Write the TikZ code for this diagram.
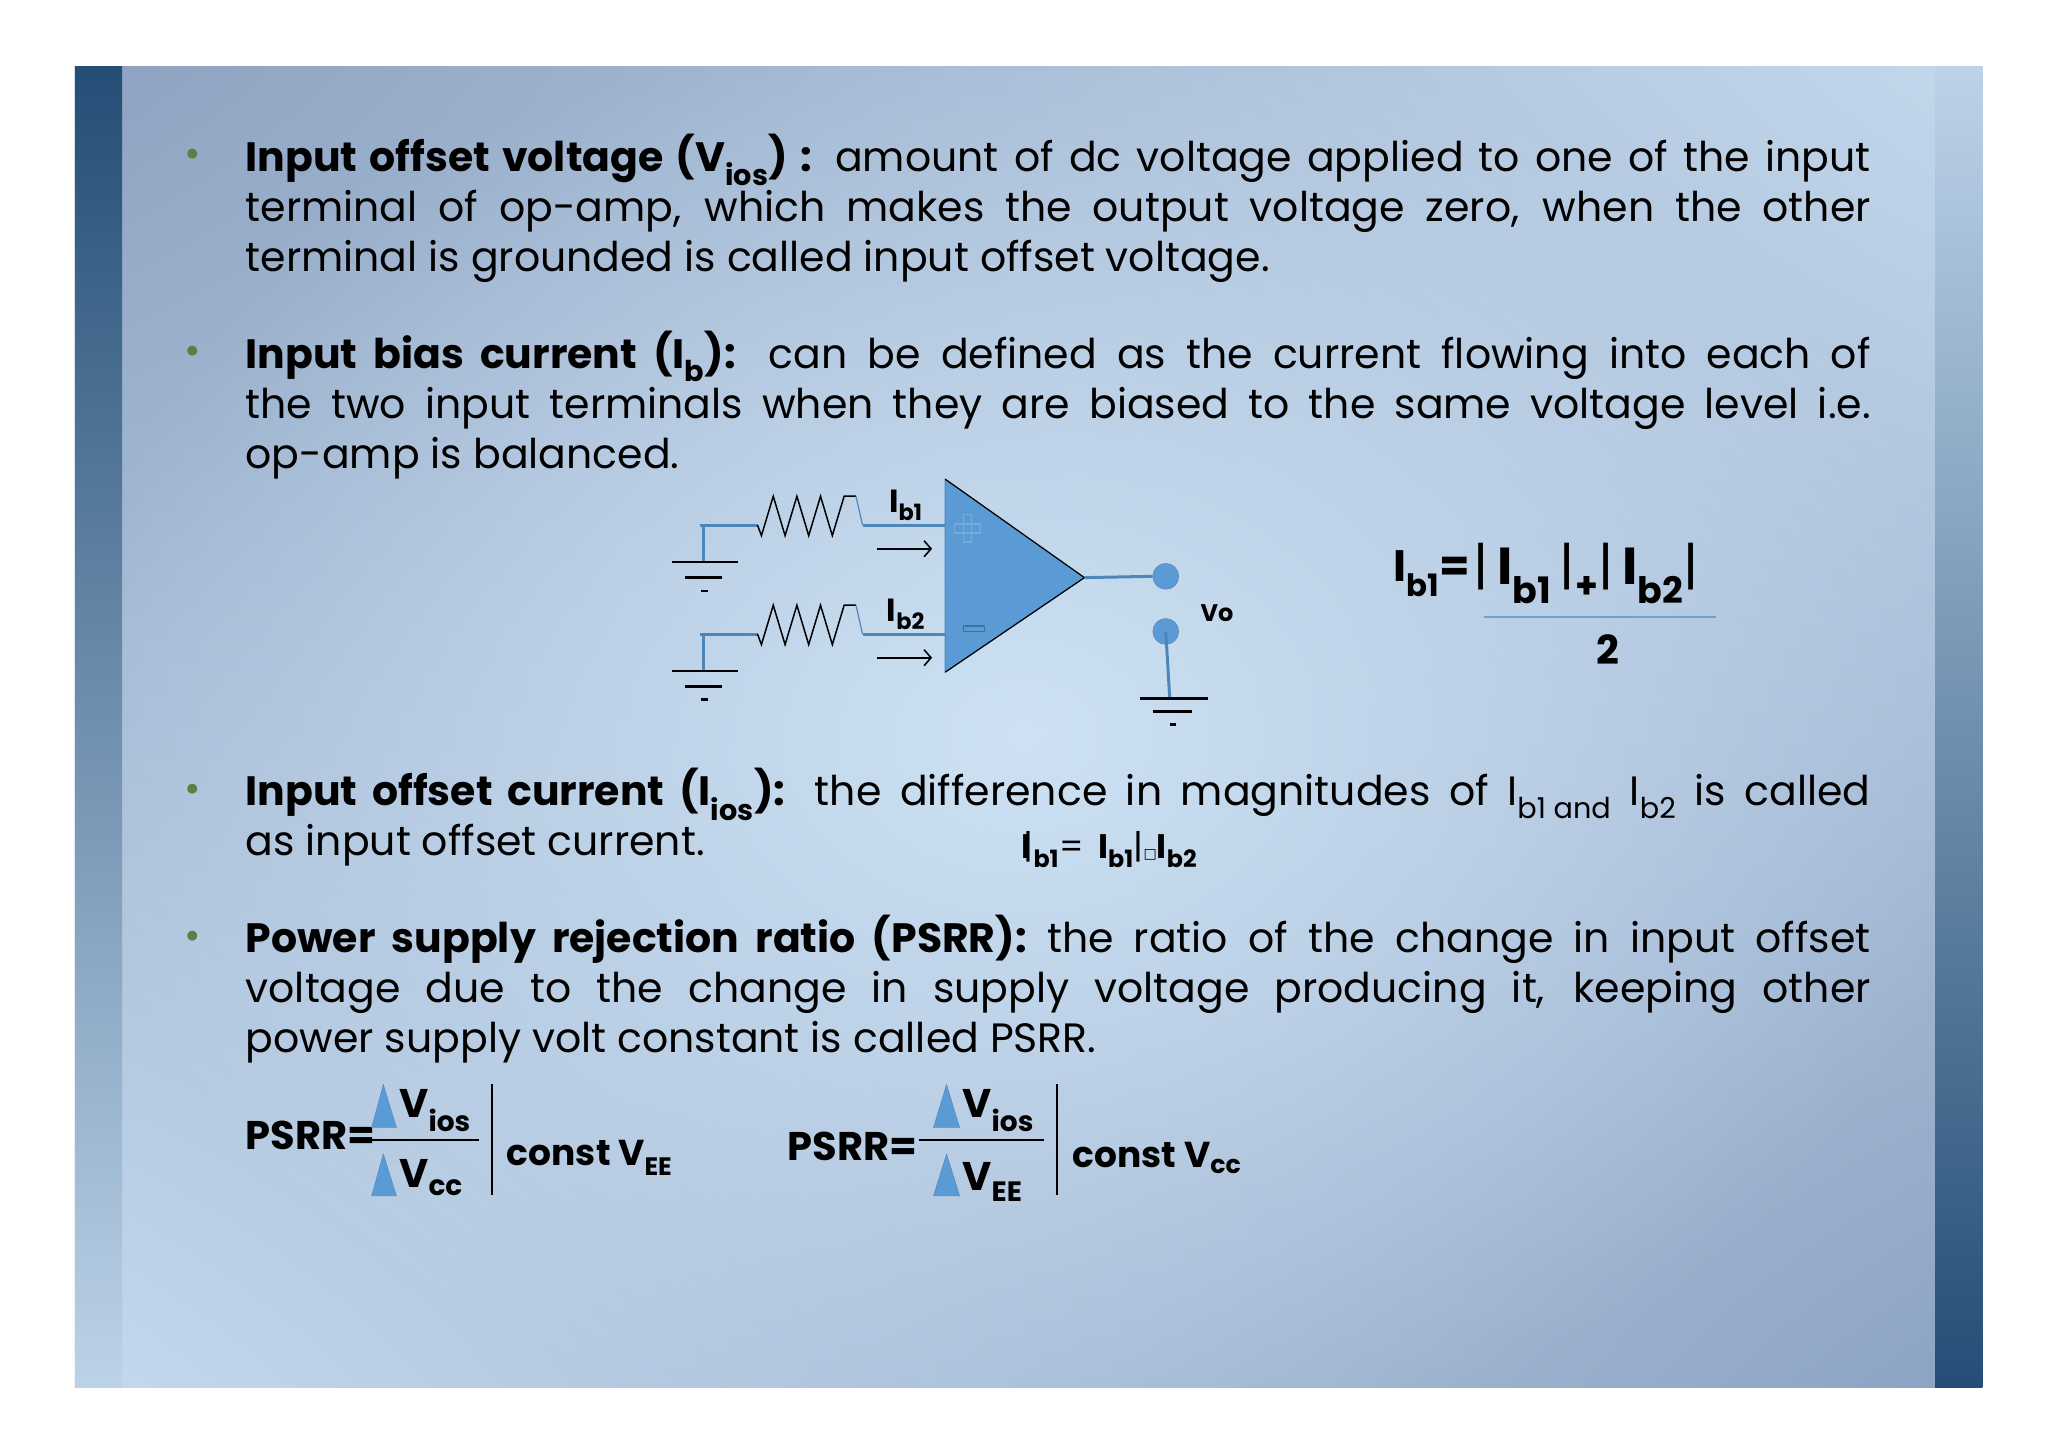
\documentclass[tikz,border=0pt]{standalone}
\usepackage{fontspec}
\usetikzlibrary{shadings,fadings,arrows.meta}
\setmainfont{Poppins}
\newfontfamily\dv{DejaVu Sans}
\definecolor{wireblue}{HTML}{4F86B8}
\definecolor{ampblue}{HTML}{5B9BD5}
\definecolor{bulletgreen}{HTML}{5E7E45}
\definecolor{cUL}{RGB}{140,162,192}
\definecolor{cUR}{RGB}{196,216,236}
\definecolor{cLL}{RGB}{196,217,237}
\definecolor{cLR}{RGB}{140,162,194}
\definecolor{cMid}{RGB}{206,226,244}
\definecolor{barDark}{RGB}{36,78,118}
\definecolor{barLight}{RGB}{188,210,232}
\definecolor{plusc}{RGB}{120,170,220}
\definecolor{minusc}{RGB}{65,113,156}
\definecolor{fracc}{RGB}{110,160,210}
\tikzfading[name=softc, inner color=transparent!0, outer color=transparent!100]
\hyphenpenalty=10000 \exhyphenpenalty=10000
\begin{document}
\begin{tikzpicture}[x=1.3128pt,y=-1.3128pt,
  para/.style={anchor=north west,inner sep=0pt,text width=1625pt,align=justify,font=\fontsize{41}{50}\selectfont},
  bul/.style={text=bulletgreen,font=\fontsize{40}{40}\selectfont,inner sep=0pt},
  wire/.style={draw=wireblue,line width=3pt},
  gnd/.style={draw=black,line width=2.5pt},
  lab/.style={font=\bfseries\fontsize{32}{32}\selectfont,inner sep=0pt},
  fml/.style={font=\bfseries\fontsize{40}{40}\selectfont,inner sep=0pt},
  tri/.style={fill=ampblue,draw=wireblue,line width=1pt}]
\useasboundingbox (0,0) rectangle (1560,1103);
\fill[white] (0,0) rectangle (1560,1103);
\shade[upper left=cUL,upper right=cUR,lower left=cLL,lower right=cLR] (57,51) rectangle (1510,1057);
\begin{scope}
\clip (57,51) rectangle (1510,1057);
\fill[cMid,path fading=softc] (780,560) ellipse (750 and 560);
\end{scope}
\shade[top color=barDark,bottom color=barLight] (57,51) rectangle (93,1057);
\shade[top color=barLight,bottom color=barDark] (1474,51) rectangle (1510,1057);
% bullets
\foreach \yy in {121,271,604,716} \node[bul] at (147,\yy) {•};
\node[para] (p1) at (187,102) {\textbf{Input offset voltage (V\textsubscript{ios}) :} amount of dc voltage applied to one of the input terminal of op-amp, which makes the output voltage zero, when the other terminal is grounded is called input offset voltage.};
\node[para] (p2) at (187,252) {\textbf{Input bias current (I\textsubscript{b}):} can be defined as the current flowing into each of\linebreak the two input terminals when they are biased to the same voltage level i.e.\linebreak op-amp is balanced.};
\node[para] (p3) at (187,585) {\textbf{Input offset current (I\textsubscript{ios}):} the difference in magnitudes of I\textsubscript{b1 and} I\textsubscript{b2} is called\linebreak as input offset current.};
\node[para] (p4) at (187,697) {\textbf{Power supply rejection ratio (PSRR):} the ratio of the change in input offset\linebreak voltage due to the change in supply voltage producing it, keeping other\linebreak power supply volt constant is called PSRR.};
% op-amp
\coordinate (tA) at (720,365); \coordinate (tB) at (720,512); \coordinate (tip) at (826,440);
\draw[tri] (tA) -- (tip) -- (tB) -- cycle;
\draw[draw=black,line width=1.2pt] (tA) -- (tip) -- (tB);
\draw[draw=plusc,line width=1.5pt] (734,392) rectangle (740,413) (727,399) rectangle (747,406);
\draw[draw=minusc,line width=1.5pt] (734,477) rectangle (750,481);
% output
\node[circle,fill=ampblue,draw=wireblue,minimum size=26pt,inner sep=0pt] (o1) at (888,439) {};
\node[circle,fill=ampblue,draw=wireblue,minimum size=26pt,inner sep=0pt] (o2) at (888,481) {};
\draw[wire] (tip) -- (o1.west);
\coordinate (g3) at (891,532);
\draw[wire] (o2.center) -- (g3);
\draw[gnd] (868,532) -- (920,532) (878,542) -- (908,542) (891,552) -- (896,552);
\node[font=\bfseries\fontsize{24}{24}\selectfont] (vo) at (927,467) {Vo};
% inputs
\foreach \dy/\n in {0/1,83/2}{
  \coordinate (w\n) at (720,400+\dy);
  \coordinate (re\n) at (657,400+\dy);
  \coordinate (rs\n) at (577,400+\dy);
  \coordinate (gl\n) at (533,400+\dy);
  \coordinate (gv\n) at (536,428+\dy);
  \draw[wire] (re\n) -- (w\n);
  \draw[wire] (gl\n) -- (rs\n);
  \draw[wire] (536,400+\dy) -- (gv\n);
  \draw[draw=black,line width=1.5pt] (rs\n) -- (580,408+\dy) -- (589,378+\dy) -- (598,408+\dy) -- (607,378+\dy) -- (616,408+\dy) -- (625,378+\dy) -- (634,408+\dy) -- (643,378+\dy) -- (652,378+\dy);
  \draw[draw=wireblue,line width=1.2pt] (652,378+\dy) -- (re\n);
  \draw[gnd] (512,428+\dy) -- (562,428+\dy) (522,440+\dy) -- (550,440+\dy) (534,450+\dy) -- (539,450+\dy);
  \node[lab] (l\n) at (690,385+\dy) {I\textsubscript{b\n}};
  \coordinate (a\n s) at (668,418+\dy); \coordinate (a\n e) at (710,418+\dy);
  \draw[-{Straight Barb[length=7pt,width=16pt]},line width=1.6pt] (a\n s) -- (a\n e);
}
% Ib formula
\node[fml,anchor=east,font=\bfseries\fontsize{44}{44}\selectfont] (f1) at (1120,437) {I\textsubscript{b1}=};
\node[fml,anchor=west,font=\bfseries\fontsize{52}{52}\selectfont] (f2) at (1122,437) {{\fontseries{m}\selectfont|}\,I\textsubscript{b1}\,{\fontseries{m}\selectfont|}\textsubscript{+}{\fontseries{m}\selectfont|}\,I\textsubscript{b2}{\fontseries{m}\selectfont|}};
\coordinate (fl1) at (1130,470); \coordinate (fl2) at (1307,470);
\draw[draw=fracc,line width=2.5pt] (fl1) -- (fl2);
\node[fml] (f3) at (1225,495) {2};
% offset current formula
\node[font=\bfseries\fontsize{34}{34}\selectfont,anchor=west,inner sep=0pt] (f4) at (778,647) {I\kern-8pt{\fontseries{m}\selectfont|}\textsubscript{b1}{\fontseries{m}\selectfont=}\ \ I\textsubscript{b1}{\fontseries{m}\selectfont|}{\dv\fontsize{14}{14}\selectfont □}I\textsubscript{b2}};
% PSRR 1
\node[fml,anchor=west] (ps1) at (187,865) {PSRR=};
\coordinate (pl1a) at (281,868); \coordinate (pl1b) at (365,868);
\draw[line width=2pt] (pl1a) -- (pl1b);
\fill[ampblue,draw=wireblue] (283,859) -- (292,826) -- (302,859) -- cycle;
\fill[ampblue,draw=wireblue] (283,911) -- (292,879) -- (302,911) -- cycle;
\node[fml,anchor=west] (v1) at (304,846) {V\textsubscript{ios}};
\node[fml,anchor=west] (v2) at (304,897) {V\textsubscript{cc}};
\coordinate (b1a) at (375,826); \coordinate (b1b) at (375,910);
\draw[line width=1.8pt] (b1a) -- (b1b);
\node[fml,anchor=west,font=\bfseries\fontsize{36}{36}\selectfont] (c1) at (386,882) {const V\textsubscript{EE}};
% PSRR 2
\node[fml,anchor=west] (ps2) at (600,873) {PSRR=};
\coordinate (pl2a) at (700,868); \coordinate (pl2b) at (795,868);
\draw[line width=2pt] (pl2a) -- (pl2b);
\fill[ampblue,draw=wireblue] (711,859) -- (721,826) -- (731,859) -- cycle;
\fill[ampblue,draw=wireblue] (711,911) -- (721,879) -- (731,911) -- cycle;
\node[fml,anchor=west] (v3) at (733,846) {V\textsubscript{ios}};
\node[fml,anchor=west] (v4) at (733,900) {V\textsubscript{EE}};
\coordinate (b2a) at (805,826); \coordinate (b2b) at (805,910);
\draw[line width=1.8pt] (b2a) -- (b2b);
\node[fml,anchor=west,font=\bfseries\fontsize{36}{36}\selectfont] (c2) at (817,882) {const V\textsubscript{cc}};
\end{tikzpicture}
\end{document}
